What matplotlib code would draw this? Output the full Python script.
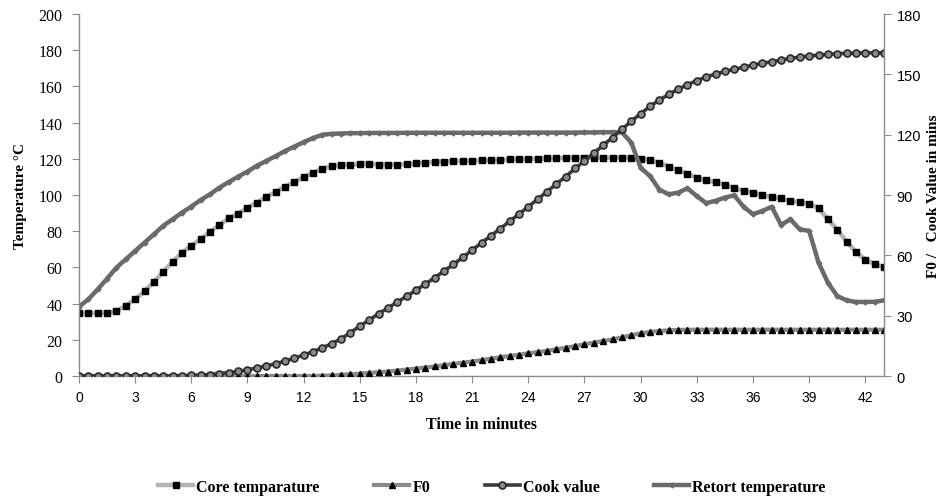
import numpy as np
from matplotlib import pyplot as plt
from matplotlib.ticker import MultipleLocator

# time axis, readings every half minute
minutes = np.arange(0, 43.5, 0.5)

core_temp = [34.6, 34.6, 34.8, 35.0, 35.7, 38.9, 42.4, 46.8, 52.1, 57.6,
             63.2, 68.1, 72.0, 75.7, 79.7, 83.4, 87.1, 89.7, 93.0, 95.8,
             99.0,
             101.8, 104.6, 107.2, 109.8, 112.3, 114.5, 116.0, 116.6, 116.8, 117.0,
             117.3, 116.8, 116.8, 116.8, 117.0, 117.5, 117.9, 118.2, 118.5, 118.8,
             118.6, 118.9, 119.1, 119.2, 119.3, 119.7, 119.8, 120.0, 120.1, 120.2,
             120.3, 120.5, 120.6, 120.6, 120.6, 120.6, 120.6, 120.6, 120.5, 120.1,
             119.2, 117.9, 115.7, 113.6, 111.8, 109.6, 108.3, 107.0, 105.8, 103.7,
             102.4, 101.3, 100.2, 98.7, 98.3, 96.5, 96.2, 95.2, 92.8, 86.6,
             80.9, 74.3, 68.5, 64.3, 61.9, 60.2]

retort_temp = [38.3, 42.4, 47.9, 53.8, 59.9, 64.5, 69.1, 73.7, 78.3, 83.0,
               86.6, 90.3, 93.6, 97.3, 100.4, 104.1, 107.2, 110.2, 113.0, 116.2,
               118.8, 121.5, 124.3, 126.8, 129.2, 131.5, 133.3, 133.8, 134.0,
               134.2, 134.2, 134.3, 134.3, 134.3, 134.3, 134.4, 134.4, 134.4, 134.4,
               134.4, 134.4, 134.4, 134.4, 134.4, 134.4, 134.4, 134.4, 134.5, 134.5,
               134.5, 134.5, 134.5, 134.5, 134.5, 134.6, 134.6, 134.7, 134.7,
               134.6, 129.0, 115.0, 110.5, 103.0, 100.4, 101.3, 103.7, 99.4, 95.5,
               96.8, 98.6, 99.8, 93.5, 89.4, 91.2, 93.5, 83.5, 86.6, 81.0,
               80.2, 62.7, 51.6, 44.2, 41.8, 40.9, 40.9, 41.0, 41.8]

f0 = [0] * 26 + \
     [0.1, 0.3, 0.6, 0.9, 1.2, 1.5, 1.9, 2.2, 2.7, 3.2,
      3.7, 4.2, 4.8, 5.4, 6.0, 6.6, 7.2, 7.9, 8.6, 9.3,
      10.0, 10.6, 11.3, 11.9, 12.5, 13.3, 14.1, 14.9, 15.8, 16.6,
      17.4, 18.2, 19.2, 20.3, 21.2, 21.9, 22.4, 22.7, 22.9] + \
     [23.0] * 22

cook_value = [0] * 11 + \
             [0.2, 0.3, 0.5, 0.7, 1.2, 1.7, 2.3, 3.1, 4.0, 5.0,
              6.1, 7.4, 8.9, 10.4, 12.1, 14.0, 16.1, 18.5, 21.6, 24.8,
              27.8, 31.0, 33.8, 36.8, 39.6, 42.7, 45.7, 48.9, 52.2, 55.5,
              59.0, 62.6, 66.2, 69.7, 73.3, 76.9, 80.5, 84.2, 87.9, 91.7,
              95.5, 99.2, 103.2, 107.0, 110.8, 114.8, 118.6, 122.7, 126.7, 130.5,
              134.1, 137.3, 140.0, 142.6, 144.9, 146.9, 148.7, 150.2, 151.5, 152.5,
              153.6, 154.6, 155.5, 156.3, 157.1, 158.0, 158.6, 159.1, 159.6, 159.9,
              160.3, 160.5, 160.5, 160.7, 160.7, 160.8]

serif = 'Liberation Serif'
sans = 'Liberation Sans'
axis_grey = '#8c8c8c'

fig = plt.figure(figsize=(9.46, 5.02), dpi=100)
ax = fig.add_axes([0.0835, 0.249, 0.851, 0.721])
ax2 = ax.twinx()

core_line, = ax.plot(minutes, core_temp, color='#b4b4b4', lw=3.2, marker='s',
                     ms=4, mfc='black', mec='black', label='Core temparature')
retort_line, = ax.plot(minutes, retort_temp, color='#6a6a6a', lw=3.2, marker='D',
                       ms=2.5, mfc='#6a6a6a', mec='#6a6a6a', label='Retort temperature')
f0_line, = ax2.plot(minutes, f0, color='#8a8a8a', lw=3.0, marker='^',
                    ms=4, mfc='black', mec='black', label='F0')
cook_line, = ax2.plot(minutes, cook_value, color='#3c3c3c', lw=2.6, marker='o',
                      ms=5, mfc='#8a8a8a', mec='#2a2a2a', mew=1.2, label='Cook value')

ax.set_xlim(0, 43)
ax.set_ylim(0, 200)
ax2.set_ylim(0, 180)
ax.xaxis.set_major_locator(MultipleLocator(3))
ax.yaxis.set_major_locator(MultipleLocator(20))
ax2.yaxis.set_major_locator(MultipleLocator(30))

for a in (ax, ax2):
    a.spines['top'].set_visible(False)
    for s in ('left', 'right', 'bottom'):
        a.spines[s].set_color(axis_grey)
        a.spines[s].set_linewidth(1.0)
ax.spines['right'].set_visible(False)
ax2.spines['left'].set_visible(False)
ax2.spines['bottom'].set_visible(False)

ax.tick_params(axis='x', direction='out', length=5, color=axis_grey, pad=5)
ax.tick_params(axis='y', direction='out', length=5, color=axis_grey, pad=7)
ax2.tick_params(axis='y', direction='out', length=5, color=axis_grey, pad=4)

for lbl in ax.get_xticklabels():
    lbl.set_fontfamily(sans)
    lbl.set_fontsize(10)
for lbl in ax.get_yticklabels():
    lbl.set_fontfamily(serif)
    lbl.set_fontsize(11.5)
for lbl in ax2.get_yticklabels():
    lbl.set_fontfamily(sans)
    lbl.set_fontsize(10.5)

ax.set_xlabel('Time in minutes', fontfamily=serif, fontweight='bold',
              fontsize=11.5, labelpad=9)
ax.set_ylabel('Temperature °C', fontfamily=serif, fontweight='bold',
              fontsize=11, labelpad=8)
ax2.set_ylabel('F0 /   Cook Value in mins', fontfamily=serif, fontweight='bold',
               fontsize=11, labelpad=4)

fig.legend(handles=[core_line, f0_line, cook_line, retort_line],
           loc='center', bbox_to_anchor=(0.52, 0.028), ncol=4, frameon=False,
           prop={'family': serif, 'weight': 'bold', 'size': 11.5},
           handlelength=2.2, handletextpad=0.2, columnspacing=3.4)

fig.savefig('out.png', dpi=100)
